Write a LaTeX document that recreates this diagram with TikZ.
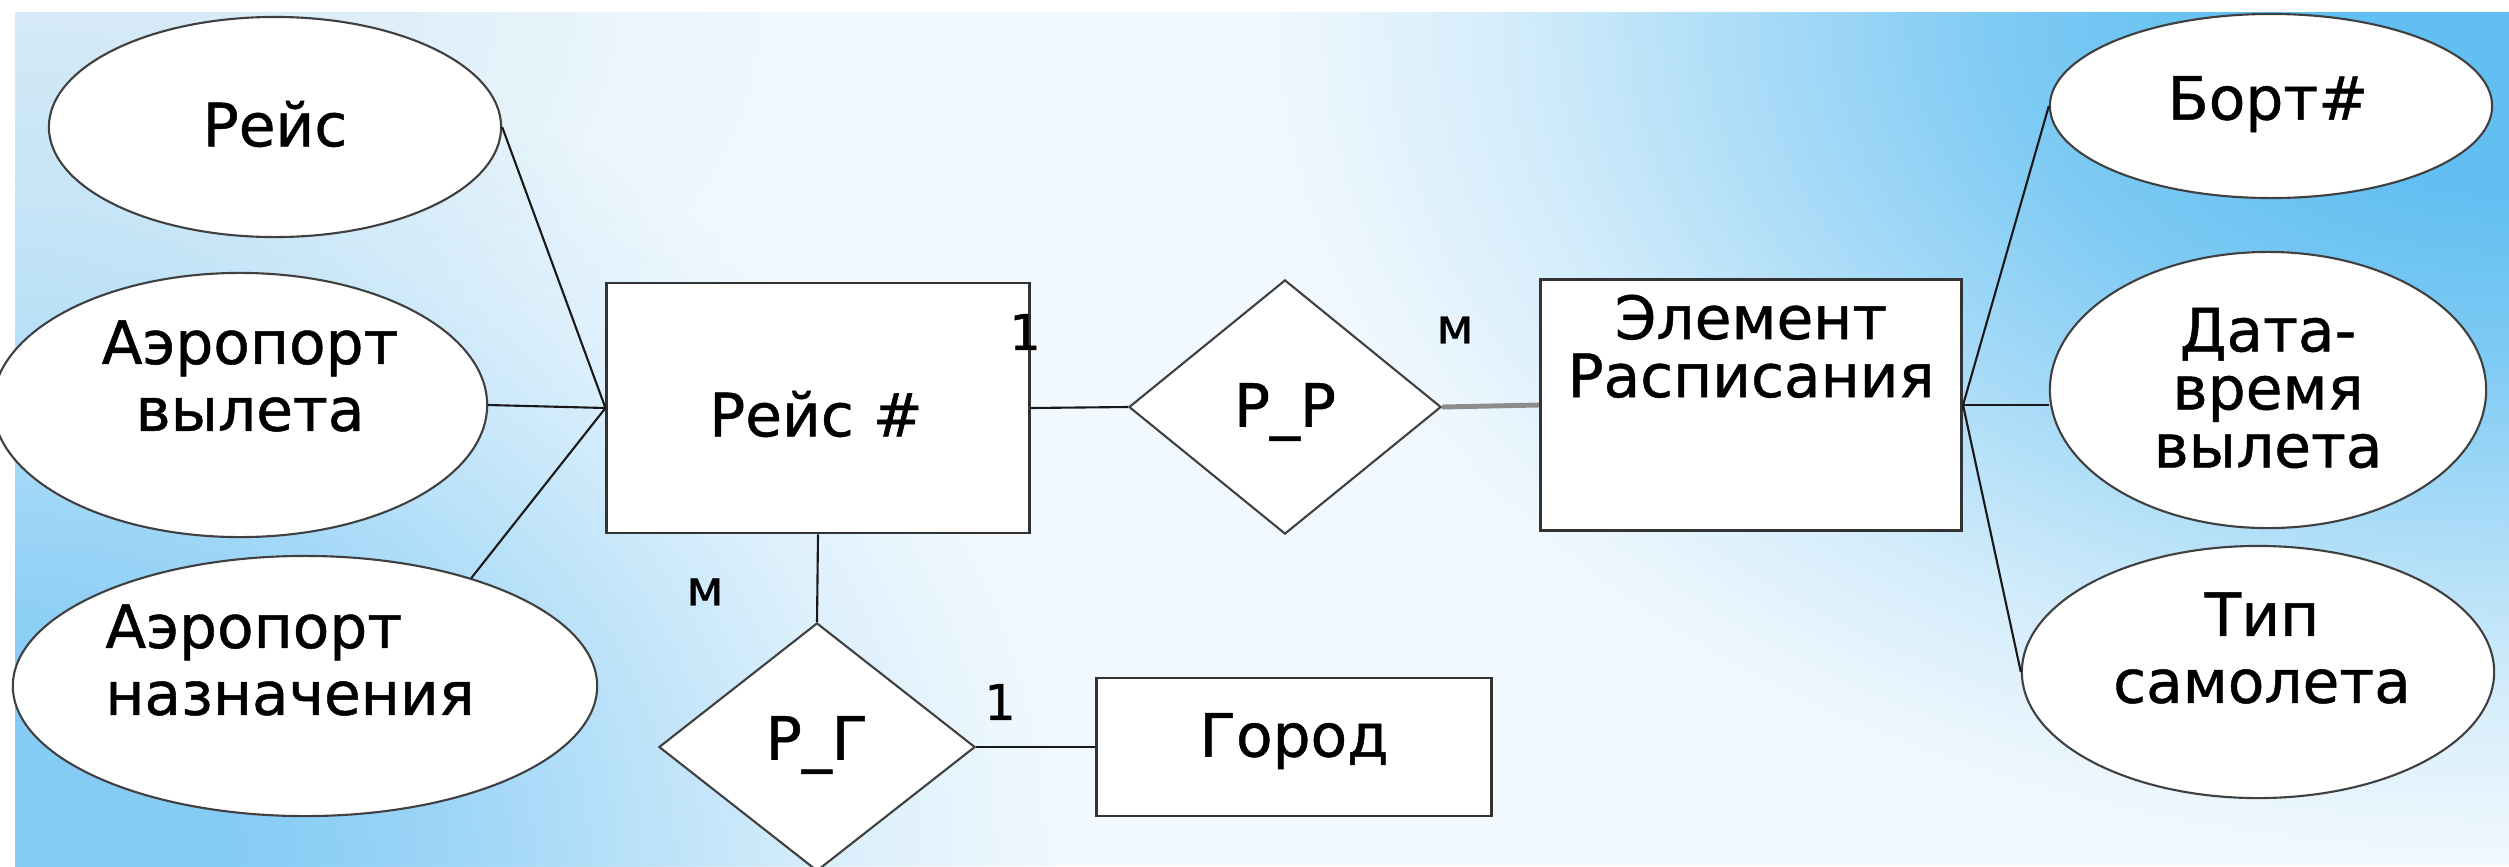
\documentclass[tikz,border=0pt]{standalone}
\usepackage{fontspec}
\setmainfont[FakeBold=0.8]{DejaVu Sans}
\usetikzlibrary{shapes.geometric,fadings}
\pgfdeclareradialshading{blobshade}{\pgfpointorigin}{color(0bp)=(white); color(5bp)=(white); color(10bp)=(white!80!black); color(15bp)=(white!50!black); color(20bp)=(white!20!black); color(25bp)=(black); color(50bp)=(black)}
\pgfdeclarefading{blob}{\pgfuseshading{blobshade}}
\definecolor{bgbase}{rgb}{0.95,0.975,0.995}
\definecolor{blueBL}{rgb}{0.52,0.80,0.96}
\definecolor{blueTR}{rgb}{0.38,0.75,0.95}
\definecolor{blueTL}{rgb}{0.84,0.92,0.97}
\tikzset{
  txt/.style={font=\fontsize{17}{19}\selectfont, text=black, inner sep=0pt, align=center},
  txtt/.style={font=\fontsize{17}{16.5}\selectfont, text=black, inner sep=0pt, align=center},
  lbl/.style={font=\fontsize{14}{16}\selectfont, text=black, inner sep=0pt},
  ent/.style={rectangle, draw=black!80, line width=0.8pt, fill=white, inner sep=0pt},
  attr/.style={ellipse, draw=black!75, line width=0.6pt, fill=white, inner sep=0pt},
  rel/.style={diamond, draw=black!75, line width=0.6pt, fill=white, inner sep=0pt},
  conn/.style={draw=black!90, line width=0.6pt},
  gconn/.style={draw=black!45, line width=1.4pt}
}
\begin{document}
\begin{tikzpicture}[x=0.01cm, y=-0.01cm]
\useasboundingbox (0,0) rectangle (2509,866);
\fill[white] (0,0) rectangle (2509,866);
\begin{scope}
  \clip (15,12) rectangle (2509,866);
  \fill[bgbase] (15,12) rectangle (2509,866);
  \fill[blueTL, path fading=blob] (15,12) ellipse [x radius=800, y radius=500];
  \fill[blueBL, path fading=blob] (15,866) ellipse [x radius=1050, y radius=850];
  \fill[blueTR, path fading=blob] (2509,12) ellipse [x radius=1250, y radius=850];
\end{scope}

% entities
\node[ent, minimum width=4.22cm, minimum height=2.50cm] (r1) at (818,408) {};
\node[txt] (r1t) at (816,414) {Рейс \#};
\node[ent, minimum width=4.21cm, minimum height=2.51cm] (r2) at (1751,405) {};
\node[txtt, anchor=north] (r2t) at (1751,294) {Элемент\\Расписания};
\node[ent, minimum width=3.95cm, minimum height=1.38cm] (r3) at (1294,747) {};
\node[txt] (r3t) at (1294,741) {Город};

% relationships
\node[rel, minimum width=3.12cm, minimum height=2.54cm] (d1) at (1285,407) {};
\node[txt] (d1t) at (1285,412) {Р\_Р};
\node[rel, minimum width=3.16cm, minimum height=2.48cm] (d2) at (817,747) {};
\node[txt] (d2t) at (817,745) {Р\_Г};

% attributes
\node[attr, minimum width=4.52cm, minimum height=2.20cm] (e1) at (275,127) {};
\node[txt] (e1t) at (275,124) {Рейс};
\node[attr, minimum width=4.94cm, minimum height=2.64cm] (e2) at (240,405) {};
\node[txt] (e2t) at (250,376) {Аэропорт\\вылета};
\node[attr, minimum width=5.84cm, minimum height=2.60cm] (e3) at (305,686) {};
\node[txt, align=left] (e3t) at (290,660) {Аэропорт\\назначения};
\node[attr, minimum width=4.42cm, minimum height=1.84cm] (e4) at (2271,106) {};
\node[txt] (e4t) at (2268,104) {Борт\#};
\node[attr, minimum width=4.36cm, minimum height=2.76cm] (e5) at (2268,390) {};
\node[txtt] (e5t) at (2268,388) {Дата-\\время\\вылета};
\node[attr, minimum width=4.72cm, minimum height=2.52cm] (e6) at (2258,672) {};
\node[txt] (e6t) at (2262,648) {Тип\\самолета};

% connectors
\draw[conn] (e1.east) -- (r1.west);
\draw[conn] (e2.east) -- (r1.west);
\draw[conn] (e3.33) -- (r1.west);
\draw[conn] (r1.east) -- (d1.west);
\draw[gconn] (d1.east) -- (r2.west);
\draw[conn] (r2.east) -- (e4.west);
\draw[conn] (r2.east) -- (r2.east -| e5.west);
\draw[conn] (r2.east) -- (e6.west);
\draw[conn] (r1.south) -- (d2.north);
\draw[conn] (d2.east) -- (r3.west);

% cardinalities
\node[lbl] (c1) at (1025,332) {1};
\node[lbl] (c2) at (1455,330) {м};
\node[lbl] (c3) at (705,592) {м};
\node[lbl] (c4) at (1000,702) {1};
\end{tikzpicture}
\end{document}
